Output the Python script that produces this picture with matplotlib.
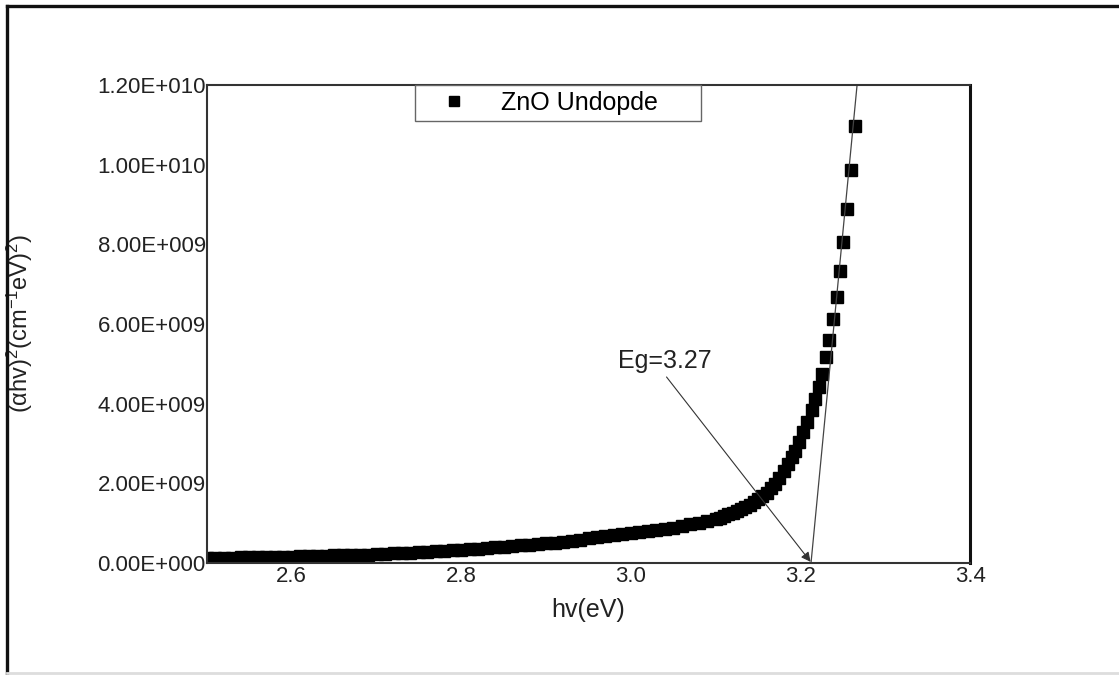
#!/usr/bin/env python3
"""
Tauc plot of undoped ZnO: (alpha hv)^2 versus photon energy, with the
linear extrapolation used to read the band gap.
"""
import matplotlib

matplotlib.use("Agg")
import matplotlib.pyplot as plt
from matplotlib.lines import Line2D
from matplotlib.ticker import FixedLocator, FuncFormatter

plt.rcParams["font.family"] = ["Liberation Sans", "DejaVu Sans"]
plt.rcParams["mathtext.fontset"] = "custom"
plt.rcParams["mathtext.rm"] = "Liberation Sans"
plt.rcParams["mathtext.default"] = "regular"

# %% data
# photon energy (eV)
energy_ev = [
    2.49, 2.50, 2.51, 2.52, 2.53, 2.54, 2.55, 2.56, 2.57, 2.58, 2.59,
    2.60, 2.61, 2.62, 2.63, 2.64, 2.65, 2.66, 2.67, 2.68, 2.69,
    2.70, 2.71, 2.72, 2.73, 2.74, 2.75, 2.76, 2.77, 2.78, 2.79,
    2.80, 2.81, 2.82, 2.83, 2.84, 2.85, 2.86, 2.87, 2.88, 2.89,
    2.90, 2.91, 2.92, 2.93, 2.94, 2.95, 2.96, 2.97, 2.98, 2.99,
    3.00, 3.01, 3.02, 3.03, 3.04, 3.05, 3.06, 3.07, 3.08, 3.09,
    3.10, 3.105, 3.11, 3.115, 3.12, 3.125, 3.13, 3.135, 3.14, 3.145,
    3.15, 3.155, 3.16, 3.165, 3.17, 3.175, 3.18, 3.185, 3.19,
    3.1936, 3.1986, 3.2033, 3.208, 3.2132, 3.2172, 3.2215, 3.2258,
    3.2301, 3.234, 3.238, 3.2427, 3.2466, 3.2506, 3.2553, 3.2593, 3.2643,
]
# (alpha hv)^2 in units of 1e9 (cm^-1 eV)^2
ahv2_e9 = [
    0.12, 0.12, 0.12, 0.13, 0.13, 0.14, 0.14, 0.14, 0.15, 0.15, 0.16,
    0.16, 0.17, 0.17, 0.18, 0.18, 0.19, 0.20, 0.20, 0.21, 0.21,
    0.22, 0.23, 0.24, 0.25, 0.26, 0.27, 0.28, 0.29, 0.31, 0.32,
    0.33, 0.34, 0.36, 0.37, 0.39, 0.40, 0.42, 0.44, 0.45, 0.47,
    0.49, 0.51, 0.54, 0.56, 0.59, 0.62, 0.66, 0.68, 0.70, 0.73,
    0.75, 0.78, 0.80, 0.83, 0.86, 0.89, 0.93, 0.97, 1.01, 1.06,
    1.11, 1.14, 1.18, 1.22, 1.26, 1.30, 1.35, 1.40, 1.46, 1.52,
    1.60, 1.68, 1.77, 1.88, 1.99, 2.13, 2.30, 2.48, 2.65,
    2.80, 3.05, 3.30, 3.55, 3.84, 4.11, 4.43, 4.75,
    5.16, 5.60, 6.12, 6.68, 7.34, 8.06, 8.89, 9.86, 10.96,
]
ahv2 = [v * 1e9 for v in ahv2_e9]

# linear extrapolation of the absorption edge
fit_ev = [3.2124, 3.2690]
fit_ahv2 = [0.0, 1.25e10]

x_ticks = [2.6, 2.8, 3.0, 3.2, 3.4]
y_ticks = [0, 2e9, 4e9, 6e9, 8e9, 1e10, 1.2e10]
y_ticklabels = ["0.00E+000", "2.00E+009", "4.00E+009", "6.00E+009",
                "8.00E+009", "1.00E+010", "1.20E+010"]

# %% plot
fig = plt.figure(figsize=(11.19, 6.75), dpi=100)
ax = fig.add_axes([0.185, 0.1659, 0.6819, 0.7082])

ax.plot(energy_ev, ahv2, linestyle="none", marker="s", markersize=8.5,
        color="black", label="ZnO Undopde")
ax.plot(fit_ev, fit_ahv2, color="#444444", linewidth=0.9)

ax.annotate("", xy=(3.2119, 0.03e9), xytext=(3.042, 4.67e9),
            arrowprops=dict(arrowstyle="-|>", color="#333333", lw=0.8,
                            mutation_scale=14, shrinkA=0, shrinkB=0))
ax.text(3.0402, 5.06e9, "Eg=3.27", ha="center", va="center",
        fontsize=18, color="#222222")

ax.set_xlim(2.5, 3.4)
ax.set_ylim(0, 1.2e10)
ax.xaxis.set_major_locator(FixedLocator(x_ticks))
ax.xaxis.set_major_formatter(FuncFormatter(lambda v, _: f"{v:.1f}"))
ax.yaxis.set_major_locator(FixedLocator(y_ticks))
ax.set_yticklabels(y_ticklabels)
ax.tick_params(axis="both", length=0, labelsize=16, colors="#222222")
ax.tick_params(axis="x", pad=2)
ax.tick_params(axis="y", pad=1)

for spine in ["left", "bottom", "top"]:
    ax.spines[spine].set_linewidth(1.5)
    ax.spines[spine].set_color("#333333")
ax.spines["right"].set_linewidth(2.2)
ax.spines["right"].set_color("#111111")

ax.set_xlabel("hv(eV)", fontsize=18, color="#222222", labelpad=8)
ax.set_ylabel("(αhv)$^{2}$(cm$^{-1}$eV)$^{2}$)", fontsize=17,
              color="#222222")
ax.yaxis.set_label_coords(-0.226, 0.5)

leg = ax.legend(loc="upper left", bbox_to_anchor=(0.2726, 0.9337, 0.3748, 0.0663),
                mode="expand", borderaxespad=0, fancybox=False,
                edgecolor="#666666", framealpha=1, fontsize=18,
                handlelength=2.6, handletextpad=0.6, markerscale=0.8,
                borderpad=0.25)
leg.get_frame().set_linewidth(1.0)

# outer frame of the picture
fig.add_artist(Line2D([0.0063, 1.0], [0.9911, 0.9911], transform=fig.transFigure,
                      color="#111111", linewidth=2.4))
fig.add_artist(Line2D([0.0063, 0.0063], [0.003, 0.9911], transform=fig.transFigure,
                      color="#111111", linewidth=2.4))
fig.add_artist(Line2D([0.0063, 1.0], [0.003, 0.003], transform=fig.transFigure,
                      color="#dddddd", linewidth=2.0))

fig.savefig("out.png", dpi=100)
